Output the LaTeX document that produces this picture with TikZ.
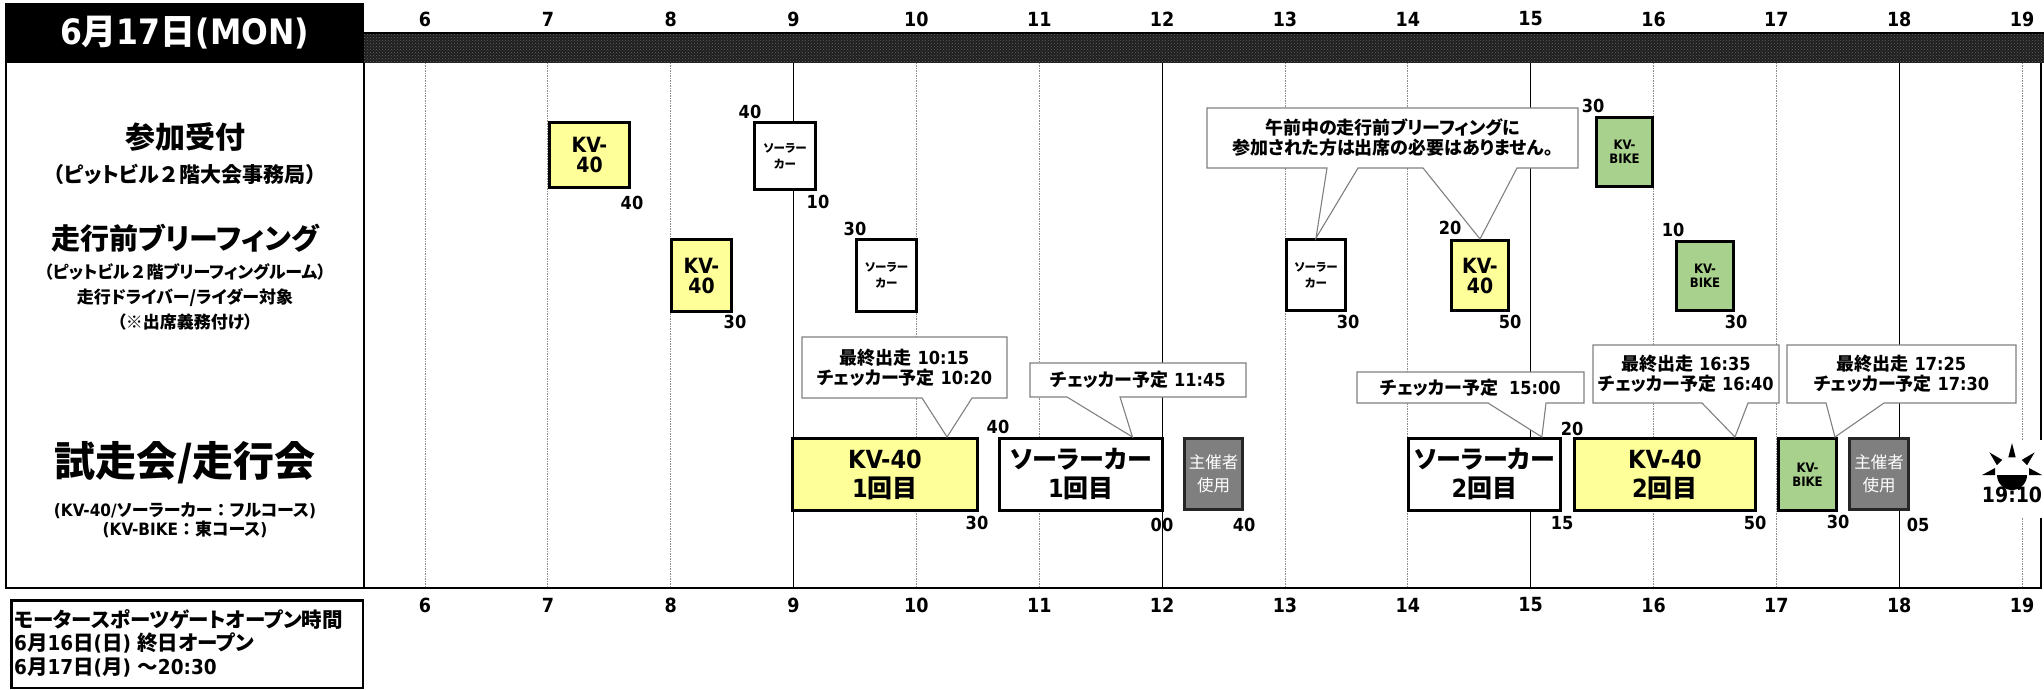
\documentclass[tikz,border=0pt]{standalone}
\usepackage{fontspec}
\setmainfont{DejaVu Sans Condensed}
\newfontfamily\jp{Noto Sans CJK JP}[RawFeature=+palt]
\newfontfamily\jpf{Noto Sans CJK JP}
\newcommand\J[1]{{\jp #1}}
\newcommand\JF[1]{{\jpf #1}}
\usetikzlibrary{patterns,calc}
\definecolor{kvy}{HTML}{FFFF99}
\definecolor{kvg}{HTML}{A9D18E}
\definecolor{kvgr}{HTML}{7F7F7F}
\newcommand\hx[1]{425+(#1-6)*122.85}
\newcommand\tbox[7]{\node[#6, minimum width={#4-#2-3.2}, minimum height={#5-#3-3.2}] (#1) at ({(#2+#4)/2},{(#3+#5)/2}) {#7};}
\newcommand\callout[9]{%
  \draw[co] (#2,#3) -- (#4,#3) -- (#4,#5) -- (#7,#5) -- #8 -- (#6,#5) -- (#2,#5) -- cycle;
  \node[cotext] (#1) at ({(#2+#4)/2},{(#3+#5)/2}) {#9};}
\begin{document}
\begin{tikzpicture}[x=1pt,y=-1pt,
  dl/.style={draw=black!45, line width=0.8pt, dash pattern=on 1.5pt off 1pt},
  sl/.style={draw=black, line width=1.2pt},
  hr/.style={font=\bfseries\fontsize{19.5}{19.5}\selectfont, inner sep=0pt},
  tl/.style={font=\bfseries\fontsize{18}{18}\selectfont, inner sep=0pt},
  bx/.style={draw=black, line width=3.2pt, align=center, inner sep=0pt},
  ky/.style={bx, fill=kvy},
  kg/.style={bx, fill=kvg},
  kw/.style={bx, fill=white},
  kgr/.style={bx, fill=kvgr, draw=black!85, text=white},
  fA/.style={font=\bfseries\fontsize{21}{20}\selectfont},
  fS/.style={font=\bfseries\fontsize{11.5}{16}\selectfont},
  fB/.style={font=\bfseries\fontsize{13}{14}\selectfont},
  fL/.style={font=\bfseries\fontsize{25}{29}\selectfont},
  fG/.style={font=\fontsize{16.5}{23}\selectfont},
  co/.style={draw=black!50, fill=white, line width=1.1pt, line join=miter},
  cotext/.style={align=center, inner sep=0pt, font=\bfseries\fontsize{18}{20}\selectfont},
]
\useasboundingbox (0,0) rectangle (2044,690);
% header
\fill[black!88] (364,33) rectangle (2044,63);
\fill[pattern=crosshatch dots, pattern color=black!62] (364,33) rectangle (2044,63);
\draw[line width=1.5pt] (364,33) -- (2044,33);
\node[fill=black, minimum width=359, minimum height=60, inner sep=0pt, text=white,
  font=\bfseries\fontsize{35}{35}\selectfont] (title) at (184.5,33) {6\J{月}17\J{日}(MON)};
% grid
\foreach \h in {6,7,8,10,11,13,14,16,17,19} \draw[dl] ({\hx{\h}},63) -- ({\hx{\h}},588);
\foreach \h in {9,12,15,18} \draw[sl] ({\hx{\h}},63) -- ({\hx{\h}},588);
\foreach \h in {6,...,19} {
  \node[hr] (top\h) at ({\hx{\h}},19) {\h};
  \node[hr] (bot\h) at ({\hx{\h}},605) {\h};
}
% frame
\draw[line width=2.5pt] (6,63) -- (6,588) -- (2041,588) -- (2041,63);
\draw[line width=2.5pt] (364,63) -- (364,588);
% left labels
\node[font=\bfseries\fontsize{30}{30}\selectfont] (lab1) at (185,137) {\J{参加受付}};
\node[font=\bfseries\fontsize{21}{21}\selectfont] (lab1s) at (185,174) {\J{（ピットビル}\JF{２}\J{階大会事務局）}};
\node[font=\bfseries\fontsize{29}{29}\selectfont] (lab2) at (185,238) {\J{走行前ブリーフィング}};
\node[font=\bfseries\fontsize{17}{25}\selectfont, align=center] (lab2s) at (185,297)
  {\J{（ピットビル}\JF{２}\J{階ブリーフィングルーム）}\\\J{走行ドライバー/ライダー対象}\\\J{（※出席義務付け）}};
\node[font=\bfseries\fontsize{41}{41}\selectfont] (lab3) at (185,463) {\J{試走会/走行会}};
\node[font=\bfseries\fontsize{17}{19}\selectfont, align=center] (lab3s) at (185,520.5)
  {(KV-40/\J{ソーラーカー}\JF{：}\J{フルコース})\\(KV-BIKE\JF{：}\J{東コース})};
% gate box
\node[draw, line width=2.5pt, minimum width=351.5, minimum height=87.5, inner sep=0pt] (gate) at (187,644) {};
\node[anchor=west, align=left, inner sep=0pt, font=\bfseries\fontsize{20.5}{23.5}\selectfont] (gatetxt) at (14,643)
  {\J{モータースポーツゲートオープン時間}\\6\J{月}16\J{日}(\J{日}) \J{終日オープン}\\6\J{月}17\J{日}(\J{月}) \J{～}20:30};
% row 1
\tbox{kr1}{548}{121}{631}{189}{ky,fA}{KV-\\40}
\tbox{sr1}{753}{121}{817}{191}{kw,fS}{\J{ソーラー}\\\J{カー}}
\tbox{br1}{1595}{116}{1654}{188}{kg,fB}{KV-\\BIKE}
% row 2
\tbox{kr2a}{670}{238}{733}{313}{ky,fA}{KV-\\40}
\tbox{sr2a}{855}{238}{918}{313}{kw,fS}{\J{ソーラー}\\\J{カー}}
\tbox{sr2b}{1285}{238}{1347}{312}{kw,fS}{\J{ソーラー}\\\J{カー}}
\tbox{kr2b}{1450}{239}{1510}{312}{ky,fA}{KV-\\40}
\tbox{br2}{1675}{240}{1735}{312}{kg,fB}{KV-\\BIKE}
% row 3
\tbox{k1}{791}{437}{979}{512}{ky,fL}{KV-40\\1\J{回目}}
\tbox{s1}{998}{437}{1164}{512}{kw,fL}{\J{ソーラーカー}\\1\J{回目}}
\tbox{g1}{1183}{437}{1244}{511}{kgr,fG}{\J{主催者}\\\J{使用}}
\tbox{s2}{1407}{437}{1562}{512}{kw,fL}{\J{ソーラーカー}\\2\J{回目}}
\tbox{k2}{1573}{437}{1757}{512}{ky,fL}{KV-40\\2\J{回目}}
\tbox{b3}{1777}{437}{1838}{512}{kg,fB}{KV-\\BIKE}
\tbox{g2}{1848}{437}{1910}{511}{kgr,fG}{\J{主催者}\\\J{使用}}
% callouts
\draw[co] (1207,108) -- (1578,108) -- (1578,168) -- (1517,168) -- (kr2b.north) -- (1423,168)
  -- (1358,168) -- (sr2b.north) -- (1327,168) -- (1207,168) -- cycle;
\node[cotext] (c0) at (1392.5,138) {\J{午前中の走行前ブリーフィングに}\\\J{参加された方は出席の必要はありません。}};
\callout{c1}{802}{337}{1007}{398}{922}{972}{($(k1.north west)!0.83!(k1.north east)$)}{\J{最終出走} 10:15\\\J{チェッカー予定} 10:20}
\callout{c2}{1030}{363}{1246}{397}{1067}{1120}{($(s1.north west)!0.81!(s1.north east)$)}{\J{チェッカー予定} 11:45}
\callout{c3}{1357}{372}{1584}{403}{1488}{1546}{($(s2.north west)!0.87!(s2.north east)$)}{\J{チェッカー予定}\hspace{0.6em}15:00}
\callout{c4}{1593}{345}{1779}{403}{1702}{1748}{($(k2.north west)!0.88!(k2.north east)$)}{\J{最終出走} 16:35\\\J{チェッカー予定} 16:40}
\callout{c5}{1787}{345}{2016}{403}{1826}{1884}{($(b3.north west)!0.95!(b3.north east)$)}{\J{最終出走} 17:25\\\J{チェッカー予定} 17:30}
% time labels
\node[tl] (t1) at (632,203) {40};
\node[tl] (t2) at (750,112) {40};
\node[tl] (t3) at (818,202) {10};
\node[tl] (t4) at (735,322) {30};
\node[tl] (t5) at (855,229) {30};
\node[tl] (t6) at (1348,322) {30};
\node[tl] (t7) at (1450,228) {20};
\node[tl] (t8) at (1510,322) {50};
\node[tl] (t9) at (1593,106) {30};
\node[tl] (t10) at (1673,230) {10};
\node[tl] (t11) at (1736,322) {30};
\node[tl] (t12) at (977,523) {30};
\node[tl] (t13) at (998,427) {40};
\node[tl] (t14) at (1162,525) {00};
\node[tl] (t15) at (1244,525) {40};
\node[tl] (t16) at (1562,523) {15};
\node[tl] (t17) at (1572,429) {20};
\node[tl] (t18) at (1755,523) {50};
\node[tl] (t19) at (1838,522) {30};
\node[tl] (t20) at (1918,525) {05};
% sunset
\fill[white] (1978,440) rectangle (2044,518);
\fill (1997,475) arc[start angle=180, end angle=0, radius=15] -- cycle;
\fill (2008.3,457.4) -- (2012,443) -- (2015.7,457.4) -- cycle;
\fill (2002.2,459.9) -- (1989.4,452.4) -- (1996.9,465.2) -- cycle;
\fill (2021.8,459.9) -- (2034.6,452.4) -- (2027.1,465.2) -- cycle;
\fill (1995,475) -- (1995,468) -- (1982,475) -- cycle;
\fill (2029,475) -- (2029,468) -- (2042,475) -- cycle;
\node[font=\bfseries\fontsize{21}{21}\selectfont, inner sep=0pt] (sunset) at (2012,495) {19:10};
\end{tikzpicture}
\end{document}
